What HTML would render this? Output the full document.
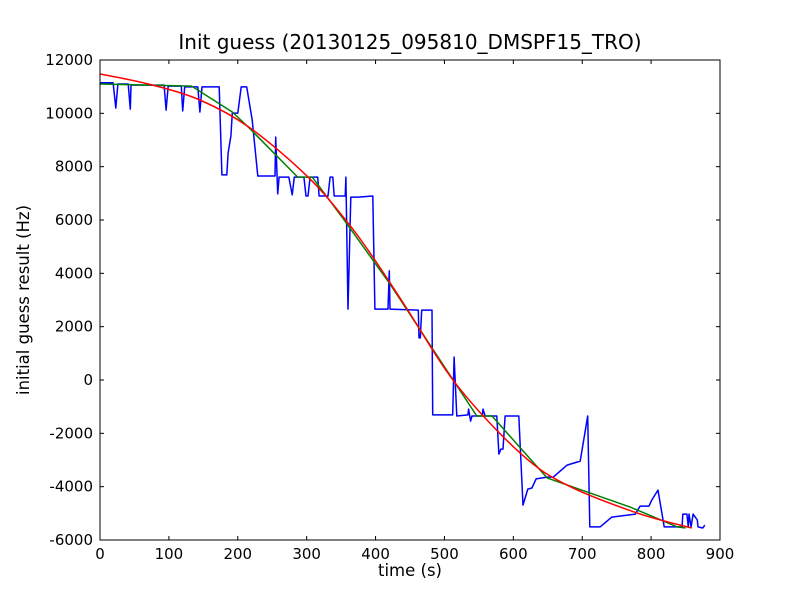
<!DOCTYPE html>
<html><head><meta charset="utf-8"><style>
body{margin:0;background:#fff;}
svg text{font-family:"DejaVu Sans","Liberation Sans",sans-serif;fill:#000;}
</style></head><body>
<svg id="chart" width="800" height="600" xmlns="http://www.w3.org/2000/svg">
<rect width="800" height="600" fill="#fff"/>
<text x="410" y="49" font-size="20" text-anchor="middle">Init guess (20130125_095810_DMSPF15_TRO)</text>
<g id="plot"></g>
<text x="410" y="576" font-size="16.5" text-anchor="middle">time (s)</text>
<text transform="translate(29,300) rotate(-90)" font-size="16.5" text-anchor="middle">initial guess result (Hz)</text>
</svg>
<script>
const xTicks=[0,100,200,300,400,500,600,700,800,900];
const yTicks=[-6000,-4000,-2000,0,2000,4000,6000,8000,10000,12000];
const blueT=[0,19,23,26,41,44,45,93,96,99,118,120,123,142,145,148,173,177,184,186,190,192,200,205,213,221,229,254,255,258,260,274,279,282,296,299,302,305,316,318,331,334,338,340,356,357,360,364,375,396,399,418,420,421,462,463,465,467,482,483,512,514,518,534,535,538,540,555,556,559,576,579,582,585,588,608,614,621,627,633,649,658,678,697,708,711,726,743,777,784,797,801,810,819,845,846,852,854,855,858,861,867,868,875,878];
const blueV=[11150,11150,10200,11100,11100,10160,11060,11060,10120,11020,11020,10090,10990,10990,10050,10990,10990,7690,7690,8510,9150,10010,10010,10990,10990,9750,7650,7650,9110,6980,7610,7610,6940,7610,7610,6900,6900,7610,7610,6900,6900,7610,7610,6900,6900,7610,2660,6860,6860,6900,2660,2660,4090,2660,2620,1580,1580,2620,2620,-1310,-1310,860,-1350,-1310,-1090,-1540,-1350,-1350,-1090,-1350,-1350,-2780,-2590,-2590,-1350,-1350,-4690,-4090,-4050,-3710,-3640,-3640,-3190,-3040,-1350,-5510,-5510,-5140,-5030,-4730,-4730,-4500,-4130,-5510,-5510,-5030,-5030,-5510,-5030,-5510,-5030,-5250,-5510,-5550,-5440];
const greenT=[0,133,192,215,287,308,353,421,547,569,649,769,838,850];
const greenV=[11100,11020,10050,9490,7610,7610,6050,3600,-1350,-1350,-3670,-4760,-5510,-5550];
const redT=[0,70,145,218,302,360,399,443,518,610,678,780,859];
const redV=[11475,11100,10500,9450,7610,5890,4500,2775,-190,-2740,-3940,-4990,-5550];

const X0=100,X1=720,Y0=540,Y1=60;
const xs=t=>X0+(t-0)/(900-0)*(X1-X0);
const ys=v=>Y0-(v+6000)/18000*(Y0-Y1);
const NS="http://www.w3.org/2000/svg";
const plot=document.getElementById('plot');
function mk(tag,attrs){const e=document.createElementNS(NS,tag);for(const k in attrs)e.setAttribute(k,attrs[k]);plot.appendChild(e);return e;}

const defs=mk('defs',{});
const cp=document.createElementNS(NS,'clipPath');cp.setAttribute('id','clip');
const cr=document.createElementNS(NS,'rect');cr.setAttribute('x',X0);cr.setAttribute('y',Y1);cr.setAttribute('width',X1-X0);cr.setAttribute('height',Y0-Y1);
cp.appendChild(cr);defs.appendChild(cp);

function poly(T,V,color,name){
  const p=mk('polyline',{points:T.map((t,i)=>xs(t).toFixed(1)+','+ys(V[i]).toFixed(1)).join(' '),fill:'none',stroke:color,'stroke-width':1.5,'stroke-linejoin':'round','clip-path':'url(#clip)'});
  
  
}
function spline(T,V,color,name){
  const P=T.map((t,i)=>[xs(t),ys(V[i])]);
  let d='M'+P[0][0]+','+P[0][1];
  for(let i=0;i<P.length-1;i++){
    const p0=P[Math.max(0,i-1)],p1=P[i],p2=P[i+1],p3=P[Math.min(P.length-1,i+2)];
    const c1=[p1[0]+(p2[0]-p0[0])/6,p1[1]+(p2[1]-p0[1])/6];
    const c2=[p2[0]-(p3[0]-p1[0])/6,p2[1]-(p3[1]-p1[1])/6];
    d+=' C'+c1.join(',')+' '+c2.join(',')+' '+p2.join(',');
  }
  const p=mk('path',{d:d,fill:'none',stroke:color,'stroke-width':1.5,'clip-path':'url(#clip)'});
  
  
}
poly(blueT,blueV,'#0000ff','series-blue-guess');
poly(greenT,greenV,'#008000','series-green-fit');
spline(redT,redV,'#ff0000','series-red-fit');

const frame=mk('rect',{x:X0,y:Y1,width:X1-X0,height:Y0-Y1,fill:'none',stroke:'#000','stroke-width':1});



xTicks.forEach(t=>{
  const x=xs(t);
  mk('line',{x1:x,y1:Y0,x2:x,y2:Y0-4,stroke:'#000'});
  mk('line',{x1:x,y1:Y1,x2:x,y2:Y1+4,stroke:'#000'});
  const tx=mk('text',{x:x,y:Y0+19,'font-size':15,'text-anchor':'middle'});
  tx.textContent=t;
  
  
});
yTicks.forEach(v=>{
  const y=ys(v);
  mk('line',{x1:X0,y1:y,x2:X0+4,y2:y,stroke:'#000'});
  mk('line',{x1:X1,y1:y,x2:X1-4,y2:y,stroke:'#000'});
  const tx=mk('text',{x:X0-7,y:y+5,'font-size':15,'text-anchor':'end'});
  tx.textContent=v;
  
  
});
</script>
</body></html>
